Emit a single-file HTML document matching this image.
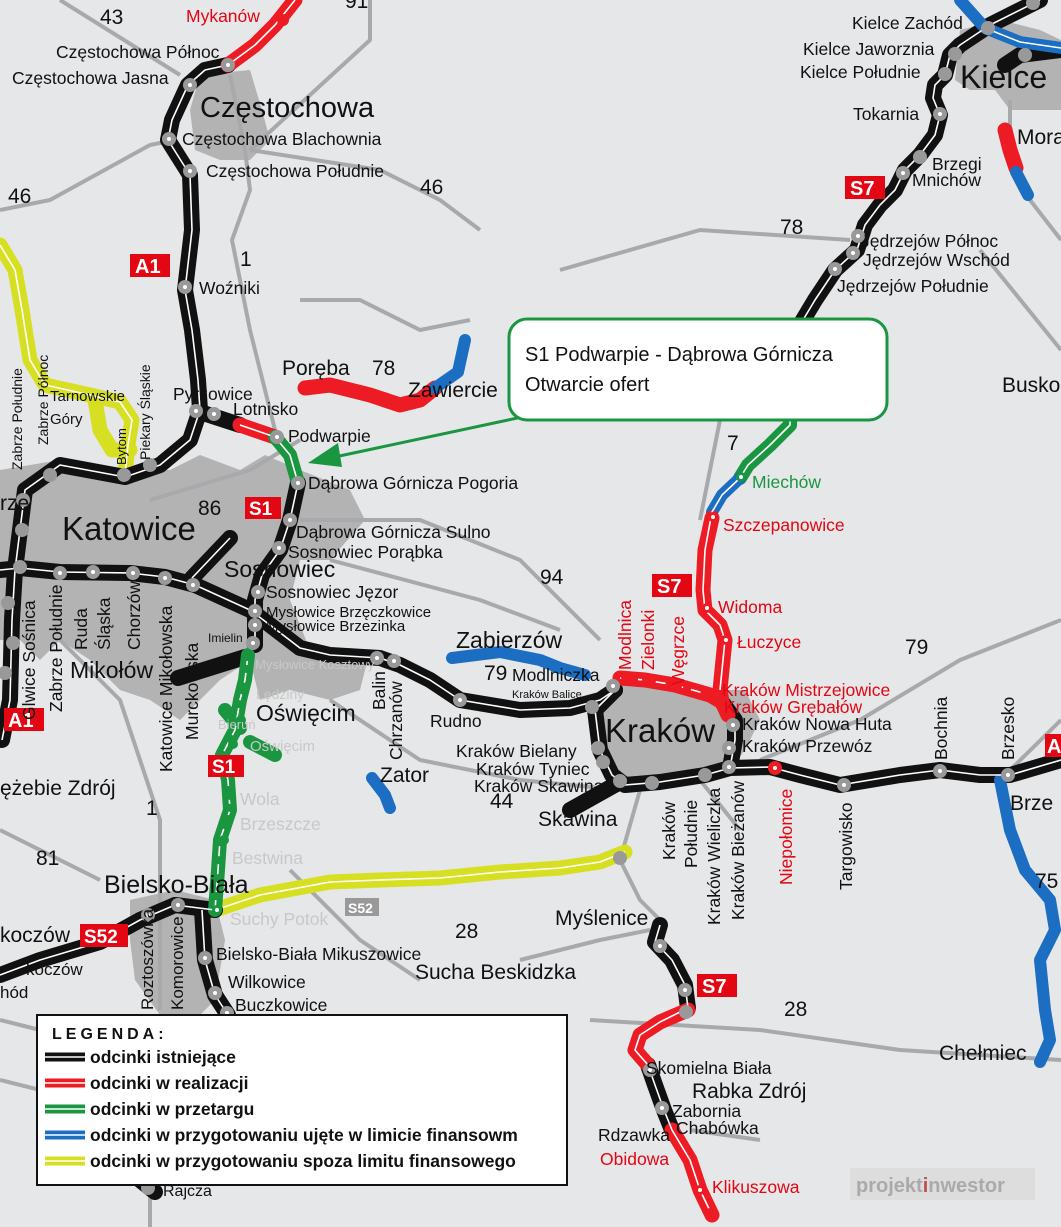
<!DOCTYPE html>
<html><head><meta charset="utf-8"><style>
html,body{margin:0;padding:0;background:#e6e7e8;}
svg{display:block;font-family:"Liberation Sans",sans-serif;}
.m{fill:none;stroke:#a7a9ac;stroke-width:4;stroke-linejoin:round}
.b{fill:none;stroke:#111;stroke-width:16;stroke-linejoin:round;stroke-linecap:round}
.r{fill:none;stroke:#ed1c24;stroke-width:15;stroke-linejoin:round;stroke-linecap:round}
.g{fill:none;stroke:#1a9641;stroke-width:14;stroke-linejoin:round;stroke-linecap:round}
.bl{fill:none;stroke:#1b6ec2;stroke-width:12;stroke-linejoin:round;stroke-linecap:round}
.y{fill:none;stroke:#d7df23;stroke-width:15;stroke-linejoin:round;stroke-linecap:round}
.w{fill:none;stroke:#fff;stroke-width:1.6;stroke-linejoin:round}
.st{fill:#999;stroke:none}
text{font-size:17.5px;fill:#111}
.red{fill:#e30613}
.gr{fill:#1a9641}
.lg{fill:#c8c8c8}
</style></head><body>
<svg width="1061" height="1227" viewBox="0 0 1061 1227" xmlns="http://www.w3.org/2000/svg">
<rect width="1061" height="1227" fill="#e6e7e8"/>
<g fill="#b3b3b3">
<path d="M200,75 L250,70 L262,110 L270,140 L250,160 L220,160 L195,150 L190,110Z"/>
<path d="M0,470 L60,460 L110,470 L170,470 L200,455 L240,470 L265,455 L300,470 L350,490 L365,520 L330,560 L300,560 L290,600 L310,650 L340,660 L370,650 L360,690 L330,700 L290,690 L260,700 L250,660 L220,680 L200,700 L180,720 L150,700 L120,690 L90,660 L60,640 L40,660 L20,640 L0,640Z"/>
<path d="M600,690 L620,680 L700,690 L745,690 L760,720 L745,750 L730,770 L700,780 L650,790 L620,780 L600,750Z"/>
<path d="M130,900 L175,890 L215,900 L225,940 L215,1000 L200,1015 L160,1015 L135,980 L130,940Z"/>
<path d="M960,30 L1000,20 L1040,30 L1061,40 L1061,110 L1010,110 L995,90 L970,90 L955,80Z"/>
</g>
<g>
<path class="m" d="M60,0 L180,75 M230,75 L245,150 L250,190 L232,240 L250,330 L275,430 M250,150 L370,40 L370,0 M250,150 L380,170 L440,200 L480,230 M0,210 L50,200 L150,145 L175,140 M300,300 L360,300 L420,330 L470,320 M150,500 L250,470 L300,440 M300,520 L420,520 L520,560 L600,640 M330,560 L480,600 L560,630 M330,700 L420,760 L520,780 L620,790 M60,640 L120,700 L160,820 L160,1010 M0,830 L60,860 L100,880 M0,1020 L40,1030 L100,1050 M290,870 L360,940 L420,980 M620,860 L640,900 L660,920 M640,790 L620,860 M700,780 L740,830 M760,760 L860,720 L960,660 L1061,620 M720,420 L700,520 M560,270 L700,230 L850,240 M980,250 L1061,350 M1010,100 L1010,130 M1030,200 L1061,240 M1000,780 L1061,720 M590,1020 L760,1030 L900,1050 L1061,1060 M520,960 L600,940 L650,930 M690,1130 L760,1140 M150,1190 L150,1227 M0,1080 L80,1100"/>
</g>
<path class="y" d="M0,245 L15,270 L22,310 L30,360 L45,385 L90,395 L120,402 L132,420 L128,445 L125,475"/>
<path class="y" d="M95,400 L100,430 L112,450 L130,450"/>
<path class="w" d="M0,245 L15,270 L22,310 L30,360 L45,385 L90,395 L120,402 L132,420 L128,445 L125,475"/>
<path class="y" d="M215,910 L260,895 L330,882 L380,880 L440,878 L500,872 L560,868 L600,862 L625,852"/>
<path class="w" d="M215,910 L260,895 L330,882 L380,880 L440,878 L500,872 L560,868 L600,862 L625,852"/>
<g>
<path class="b" d="M228,65 L205,70 L188,85 L172,120 L168,140 L190,175 L192,230 L185,290 L192,330 L198,380 L200,410 L190,440 L160,465 L125,477 L60,465 L25,490 L15,570 L12,620 L10,700 L2,740"/>
<path class="b" d="M200,412 L240,425"/>
<path class="b" d="M0,570 L20,568 L60,572 L130,573 L165,577 L195,585 L250,610 L270,625 L300,648 L330,655 L380,658 L400,665 L430,680 L460,700 L520,710 L570,708 L600,700 L615,690"/>
<path class="b" d="M192,578 L230,538"/>
<path class="b" d="M298,483 L290,520 L280,550 L262,575 L255,600 L255,620 L255,645"/>
<path class="b" d="M178,678 L245,657"/>
<path class="b" d="M615,690 L595,710 L600,750 L612,775 L625,785 L660,782 L705,775 L730,768 L735,740 L735,720 L722,702"/>
<path class="b" d="M620,782 L570,810"/>
<path class="b" d="M730,768 L770,767 L800,775 L840,785 L900,775 L940,770 L980,775 L1010,775 L1061,760"/>
<path class="b" d="M1040,0 L990,25 L960,45 L950,55 L945,75 L935,85 L933,98 L940,115 L935,135 L920,155 L905,170 L895,190 L880,205 L865,225 L857,250 L835,270 L815,300 L797,330 L792,352"/>
<path class="b" d="M1061,50 L1020,55 L1005,65"/>
<path class="b" d="M0,975 L40,960 L100,942 L140,920 L175,905 L215,910"/>
<path class="b" d="M202,910 L205,960 L215,995 L228,1015"/>
<path class="b" d="M660,925 L655,942 L672,960 L685,985 L688,1008"/>
<path class="b" d="M648,1065 L655,1085 L664,1110 L672,1130"/>
<path class="b" d="M140,1180 L155,1192"/>
</g>
<path class="r" d="M228,65 L255,45 L275,25 L295,0"/>
<path class="r" d="M305,388 L330,385 L370,395 L400,405 L420,400 L435,388"/>
<path class="bl" d="M435,388 L458,372 L465,340"/>
<path class="r" d="M240,425 L275,437"/>
<path class="g" d="M275,437 L290,455 L298,483"/>
<path class="g" d="M248,655 L245,680 L240,700 L235,730 L222,755 L228,780 L230,810 L220,840 L218,870 L215,910"/>
<path class="g" d="M225,710 L240,728 M250,742 L275,755"/>
<path class="g" d="M792,352 L790,425 L770,445 L748,465 L740,478"/>
<path class="bl" d="M740,478 L722,495 L712,512"/>
<path class="r" d="M712,518 L705,550 L703,590 L705,610 L720,625 L725,640 L720,690 L722,702"/>
<path class="r" d="M620,678 L645,680 L675,685 L710,695 L722,702 L728,715"/>
<path class="r" d="M688,1010 L660,1022 L640,1035 L635,1050 L648,1065"/>
<path class="r" d="M672,1130 L690,1160 L700,1190 L712,1215"/>
<path class="r" d="M1005,130 L1010,150 L1016,168"/>
<path class="bl" d="M1016,172 L1028,195"/>
<path class="bl" d="M960,0 L985,28 L1020,42 L1061,48"/>
<path class="bl" d="M452,658 L500,652 L540,660 L560,668 L585,675"/>
<path class="bl" d="M372,778 L385,795 L390,808"/>
<path class="bl" d="M1000,780 L1010,830 L1025,870 L1050,900 L1055,930 L1040,960 L1045,1010 L1050,1040 L1040,1062"/>
<g class="w">
<path d="M228,65 L205,70 L188,85 L172,120 L168,140 L190,175 L192,230 L185,290 L192,330 L198,380 L200,410 L190,440 L160,465 L125,477 L60,465 L25,490 L15,570 L12,620 L10,700 L2,740"/>
<path d="M0,570 L20,568 L60,572 L130,573 L165,577 L195,585 L250,610 L270,625 L300,648 L330,655 L380,658 L400,665 L430,680 L460,700 L520,710 L570,708 L600,700 L615,690"/>
<path d="M192,578 L230,538 M298,483 L290,520 L280,550 L262,575 L255,600 L255,645"/>
<path d="M615,690 L595,710 L600,750 L612,775 L625,785 L660,782 L705,775 L730,768 L735,740 L735,720"/>
<path d="M730,768 L770,767 L800,775 L840,785 L900,775 L940,770 L980,775 L1010,775 L1061,760"/>
<path d="M1040,0 L990,25 L960,45 L950,55 L945,75 L935,85 L933,98 L940,115 L935,135 L920,155 L905,170 L895,190 L880,205 L865,225 L857,250 L835,270 L815,300 L797,330 L792,352 L790,425 L770,445 L748,465 L740,478 L722,495 L712,512 L705,550 L703,590 L705,610 L720,625 L725,640 L720,690"/>
<path d="M228,65 L255,45 L275,25 L295,0 M240,425 L275,437 L290,455 L298,483"/>
<path d="M248,655 L245,680 L240,700 L235,730 L222,755 L228,780 L230,810 L220,840 L218,870 L215,910" stroke-dasharray="10 8"/>
<path d="M620,678 L645,680 L675,685 L710,695" stroke-dasharray="10 8"/>
<path d="M0,975 L40,960 L100,942 L140,920 L175,905 L215,910 M202,910 L205,960 L215,995 L228,1015"/>
<path d="M660,925 L655,942 L672,960 L685,985 L688,1008 L660,1022 L640,1035 L635,1050 L648,1065 L655,1085 L664,1110 L672,1130 L690,1160 L700,1190 L712,1215"/>
<path d="M985,28 L1020,42 L1061,48"/>
</g>
<g fill="#999">
<circle cx="228" cy="65" r="7"/><circle cx="190" cy="85" r="7"/><circle cx="169" cy="139" r="7"/><circle cx="190" cy="171" r="7"/><circle cx="185" cy="287" r="7"/><circle cx="196" cy="411" r="7"/><circle cx="214" cy="414" r="7"/><circle cx="277" cy="437" r="7"/><circle cx="298" cy="483" r="7"/><circle cx="290" cy="520" r="7"/><circle cx="279" cy="548" r="7"/><circle cx="258" cy="592" r="7"/><circle cx="255" cy="611" r="7"/><circle cx="255" cy="625" r="7"/><circle cx="253" cy="643" r="7"/>
<circle cx="50" cy="475" r="7"/><circle cx="23" cy="500" r="7"/><circle cx="22" cy="530" r="7"/><circle cx="20" cy="567" r="7"/><circle cx="60" cy="573" r="7"/><circle cx="93" cy="572" r="7"/><circle cx="133" cy="573" r="7"/><circle cx="165" cy="578" r="7"/><circle cx="193" cy="585" r="7"/><circle cx="8" cy="603" r="7"/><circle cx="13" cy="643" r="7"/><circle cx="5" cy="673" r="7"/><circle cx="150" cy="465" r="7"/><circle cx="124" cy="475" r="7"/>
<circle cx="377" cy="658" r="7"/><circle cx="394" cy="661" r="7"/><circle cx="460" cy="700" r="7"/><circle cx="613" cy="686" r="7"/><circle cx="592" cy="707" r="7"/><circle cx="598" cy="748" r="7"/><circle cx="603" cy="762" r="7"/><circle cx="620" cy="781" r="7"/><circle cx="652" cy="783" r="7"/><circle cx="705" cy="775" r="7"/><circle cx="729" cy="767" r="7"/><circle cx="729" cy="748" r="7"/><circle cx="733" cy="725" r="7"/><circle cx="844" cy="785" r="7"/><circle cx="940" cy="771" r="7"/><circle cx="1008" cy="775" r="7"/>
<circle cx="1033" cy="3" r="7"/><circle cx="988" cy="28" r="7"/><circle cx="955" cy="54" r="7"/><circle cx="945" cy="74" r="7"/><circle cx="940" cy="114" r="7"/><circle cx="920" cy="157" r="7"/><circle cx="903" cy="173" r="7"/><circle cx="858" cy="236" r="7"/><circle cx="853" cy="253" r="7"/><circle cx="835" cy="269" r="7"/><circle cx="1025" cy="55" r="7"/>
<circle cx="178" cy="905" r="7"/><circle cx="148" cy="915" r="7"/><circle cx="205" cy="958" r="7"/><circle cx="215" cy="993" r="7"/><circle cx="227" cy="1013" r="7"/><circle cx="660" cy="946" r="7"/><circle cx="685" cy="990" r="7"/><circle cx="686" cy="1012" r="7"/><circle cx="650" cy="1070" r="7"/><circle cx="662" cy="1108" r="7"/><circle cx="620" cy="858" r="7"/><circle cx="148" cy="1188" r="7"/>
</g>
<circle cx="775" cy="768" r="7" fill="#ed1c24"/><circle cx="283" cy="20" r="6" fill="#ed1c24"/>
<g fill="#ed1c24"><circle cx="713" cy="517" r="5"/><circle cx="707" cy="608" r="5"/><circle cx="726" cy="640" r="5"/><circle cx="626" cy="677" r="5"/><circle cx="647" cy="680" r="5"/><circle cx="677" cy="686" r="5"/><circle cx="712" cy="696" r="5"/><circle cx="723" cy="706" r="5"/><circle cx="700" cy="1190" r="5"/><circle cx="710" cy="1213" r="5"/></g>
<g fill="#1a9641"><circle cx="741" cy="477" r="5"/><circle cx="247" cy="656" r="5"/><circle cx="244" cy="690" r="5"/><circle cx="241" cy="720" r="5"/><circle cx="233" cy="744" r="5"/><circle cx="230" cy="795" r="5"/><circle cx="228" cy="820" r="5"/><circle cx="224" cy="840" r="5"/><circle cx="217" cy="910" r="5"/></g>
<g fill="#fff">
<circle cx="228" cy="65" r="2"/><circle cx="190" cy="85" r="2"/><circle cx="169" cy="139" r="2"/><circle cx="190" cy="171" r="2"/><circle cx="185" cy="287" r="2"/><circle cx="196" cy="411" r="2"/><circle cx="214" cy="414" r="2"/><circle cx="277" cy="437" r="2"/><circle cx="298" cy="483" r="2"/><circle cx="290" cy="520" r="2"/><circle cx="279" cy="548" r="2"/><circle cx="258" cy="592" r="2"/><circle cx="255" cy="611" r="2"/><circle cx="255" cy="625" r="2"/><circle cx="253" cy="643" r="2"/><circle cx="60" cy="573" r="2"/><circle cx="93" cy="572" r="2"/><circle cx="133" cy="573" r="2"/><circle cx="165" cy="578" r="2"/><circle cx="193" cy="585" r="2"/><circle cx="377" cy="658" r="2"/><circle cx="394" cy="661" r="2"/><circle cx="460" cy="700" r="2"/><circle cx="613" cy="686" r="2"/><circle cx="729" cy="767" r="2"/><circle cx="729" cy="748" r="2"/><circle cx="733" cy="725" r="2"/><circle cx="775" cy="768" r="2"/><circle cx="844" cy="785" r="2"/><circle cx="940" cy="771" r="2"/><circle cx="1008" cy="775" r="2"/><circle cx="940" cy="114" r="2"/><circle cx="903" cy="173" r="2"/><circle cx="858" cy="236" r="2"/><circle cx="853" cy="253" r="2"/><circle cx="835" cy="269" r="2"/><circle cx="713" cy="517" r="2"/><circle cx="707" cy="608" r="2"/><circle cx="726" cy="640" r="2"/><circle cx="741" cy="477" r="2"/><circle cx="217" cy="910" r="2"/><circle cx="660" cy="946" r="2"/><circle cx="685" cy="990" r="2"/><circle cx="650" cy="1070" r="2"/><circle cx="662" cy="1108" r="2"/><circle cx="700" cy="1190" r="2"/><circle cx="205" cy="958" r="2"/><circle cx="215" cy="993" r="2"/><circle cx="227" cy="1013" r="2"/><circle cx="178" cy="905" r="2"/><circle cx="148" cy="915" r="2"/>
</g>
<g>
<rect x="130" y="254" width="40" height="23" fill="#e30613"/><text x="135" y="273" style="fill:#fff;font-size:20px;font-weight:bold">A1</text>
<rect x="4" y="708" width="40" height="23" fill="#e30613"/><text x="8" y="727" style="fill:#fff;font-size:20px;font-weight:bold">A1</text>
<rect x="245" y="497" width="36" height="22" fill="#e30613"/><text x="249" y="515" style="fill:#fff;font-size:19px;font-weight:bold">S1</text>
<rect x="208" y="755" width="36" height="22" fill="#e30613"/><text x="212" y="773" style="fill:#fff;font-size:19px;font-weight:bold">S1</text>
<rect x="845" y="176" width="40" height="23" fill="#e30613"/><text x="850" y="195" style="fill:#fff;font-size:20px;font-weight:bold">S7</text>
<rect x="652" y="574" width="40" height="23" fill="#e30613"/><text x="657" y="593" style="fill:#fff;font-size:20px;font-weight:bold">S7</text>
<rect x="697" y="974" width="40" height="23" fill="#e30613"/><text x="702" y="993" style="fill:#fff;font-size:20px;font-weight:bold">S7</text>
<rect x="1045" y="734" width="20" height="23" fill="#e30613"/><text x="1047" y="753" style="fill:#fff;font-size:20px;font-weight:bold">A</text>
<rect x="80" y="924" width="48" height="23" fill="#e30613"/><text x="84" y="943" style="fill:#fff;font-size:19px;font-weight:bold">S52</text>
<rect x="345" y="898" width="34" height="18" fill="#999"/><text x="348" y="913" style="fill:#fff;font-size:14px;font-weight:bold">S52</text>
</g>
<g>
<text x="100" y="24" style="font-size:21px">43</text><text x="345" y="8" style="font-size:21px">91</text>
<text x="186" y="22" class="red">Mykanów</text>
<text x="56" y="58">Częstochowa Północ</text><text x="12" y="84">Częstochowa Jasna</text>
<text x="200" y="117" style="font-size:29px">Częstochowa</text>
<text x="182" y="145">Częstochowa Blachownia</text><text x="206" y="177">Częstochowa Południe</text>
<text x="420" y="194" style="font-size:21px">46</text><text x="8" y="203" style="font-size:21px">46</text>
<text x="240" y="266" style="font-size:21px">1</text><text x="199" y="294">Woźniki</text>
<text x="282" y="375" style="font-size:21px">Poręba</text><text x="372" y="375" style="font-size:21px">78</text>
<text x="408" y="397" style="font-size:21px">Zawiercie</text>
<text x="173" y="400">Pyrzowice</text><text x="233" y="415">Lotnisko</text><text x="288" y="442">Podwarpie</text>
<text x="308" y="489">Dąbrowa Górnicza Pogoria</text><text x="296" y="538">Dąbrowa Górnicza Sulno</text><text x="288" y="558">Sosnowiec Porąbka</text>
<text x="198" y="515" style="font-size:21px">86</text>
<text x="62" y="540" style="font-size:33px">Katowice</text><text x="224" y="577" style="font-size:23px">Sosnowiec</text>
<text x="266" y="598">Sosnowiec Jęzor</text><text x="266" y="617" style="font-size:15px">Mysłowice Brzęczkowice</text><text x="266" y="631" style="font-size:15px">Mysłowice Brzezinka</text>
<text x="208" y="642" style="font-size:12px">Imielin</text>
<text x="255" y="669" class="lg" style="font-size:13px">Mysłowice Kosztowy</text><text x="256" y="699" class="lg" style="font-size:14px">Lędziny</text>
<text x="256" y="721" style="font-size:23px">Oświęcim</text><text x="218" y="729" class="lg" style="font-size:13px">Bieruń</text><text x="250" y="751" class="lg" style="font-size:15px">Oświęcim</text>
<text x="70" y="678" style="font-size:23px">Mikołów</text>
<text x="0" y="795" style="font-size:21px">ężebie Zdrój</text><text x="146" y="815" style="font-size:21px">1</text><text x="36" y="865" style="font-size:21px">81</text>
<text x="240" y="805" class="lg">Wola</text><text x="240" y="830" class="lg">Brzeszcze</text><text x="232" y="864" class="lg">Bestwina</text>
<text x="104" y="893" style="font-size:25px">Bielsko-Biała</text><text x="230" y="925" class="lg">Suchy Potok</text>
<text x="0" y="942" style="font-size:21px">koczów</text><text x="26" y="975" style="font-size:17px">koczów</text><text x="0" y="998" style="font-size:17px">hód</text>
<text x="216" y="960">Bielsko-Biała Mikuszowice</text><text x="228" y="988">Wilkowice</text><text x="235" y="1011">Buczkowice</text>
<text x="456" y="648" style="font-size:23px">Zabierzów</text><text x="484" y="680" style="font-size:21px">79</text><text x="512" y="681">Modlniczka</text><text x="512" y="698" style="font-size:11px">Kraków Balice</text>
<text x="430" y="727">Rudno</text><text x="540" y="584" style="font-size:21px">94</text>
<text x="456" y="757">Kraków Bielany</text><text x="476" y="775">Kraków Tyniec</text><text x="474" y="792">Kraków Skawina</text>
<text x="490" y="808" style="font-size:21px">44</text><text x="538" y="826" style="font-size:21px">Skawina</text>
<text x="380" y="782" style="font-size:21px">Zator</text>
<text x="605" y="742" style="font-size:33px">Kraków</text>
<text x="722" y="696" class="red">Kraków Mistrzejowice</text><text x="724" y="713" class="red">Kraków Grębałów</text>
<text x="742" y="730">Kraków Nowa Huta</text><text x="742" y="752">Kraków Przewóz</text>
<text x="718" y="613" class="red">Widoma</text><text x="737" y="648" class="red">Łuczyce</text>
<text x="723" y="531" class="red">Szczepanowice</text><text x="752" y="488" class="gr">Miechów</text>
<text x="727" y="450" style="font-size:21px">7</text><text x="905" y="654" style="font-size:21px">79</text>
<text x="780" y="234" style="font-size:21px">78</text>
<text x="852" y="29">Kielce Zachód</text>
<text x="803" y="55">Kielce Jaworznia</text><text x="800" y="78">Kielce Południe</text>
<text x="853" y="120">Tokarnia</text><text x="932" y="170">Brzegi</text><text x="912" y="186">Mnichów</text>
<text x="861" y="247">Jędrzejów Północ</text><text x="863" y="266">Jędrzejów Wschód</text><text x="837" y="292">Jędrzejów Południe</text>
<text x="960" y="88" style="font-size:32px">Kielce</text><text x="1017" y="144" style="font-size:21px">Mora</text>
<text x="1002" y="392" style="font-size:21px">Busko</text>
<text x="1010" y="810" style="font-size:21px">Brze</text><text x="1035" y="888" style="font-size:21px">75</text>
<text x="939" y="1060" style="font-size:21px">Chełmiec</text>
<text x="784" y="1016" style="font-size:21px">28</text><text x="455" y="938" style="font-size:21px">28</text>
<text x="415" y="979" style="font-size:21px">Sucha Beskidzka</text><text x="555" y="925" style="font-size:21px">Myślenice</text>
<text x="646" y="1074">Skomielna Biała</text><text x="692" y="1098" style="font-size:21px">Rabka Zdrój</text>
<text x="672" y="1117">Zabornia</text><text x="676" y="1134">Chabówka</text>
<text x="598" y="1141">Rdzawka</text><text x="600" y="1165" class="red">Obidowa</text><text x="712" y="1193" class="red">Klikuszowa</text>
</g>
<g>
<text transform="translate(631,670) rotate(-90)" class="red">Modlnica</text>
<text transform="translate(654,670) rotate(-90)" class="red">Zielonki</text>
<text transform="translate(684,685) rotate(-90)" class="red">Węgrzce</text>
<text transform="translate(792,885) rotate(-90)" class="red">Niepołomice</text>
<text transform="translate(675,860) rotate(-90)">Kraków</text>
<text transform="translate(697,868) rotate(-90)">Południe</text>
<text transform="translate(720,925) rotate(-90)">Kraków Wieliczka</text>
<text transform="translate(744,920) rotate(-90)">Kraków Bieżanów</text>
<text transform="translate(852,890) rotate(-90)">Targowisko</text>
<text transform="translate(947,760) rotate(-90)">Bochnia</text>
<text transform="translate(1014,760) rotate(-90)">Brzesko</text>
<text transform="translate(385,710) rotate(-90)">Balin</text>
<text transform="translate(402,760) rotate(-90)">Chrzanów</text>
<text transform="translate(172,772) rotate(-90)">Katowice Mikołowska</text>
<text transform="translate(198,740) rotate(-90)">Murckowska</text>
<text transform="translate(35,720) rotate(-90)">Glwice Sośnica</text>
<text transform="translate(62,712) rotate(-90)">Zabrze Południe</text>
<text transform="translate(87,650) rotate(-90)">Ruda</text>
<text transform="translate(110,650) rotate(-90)">Śląska</text>
<text transform="translate(140,650) rotate(-90)">Chorzów</text>
<text transform="translate(22,470) rotate(-90)" style="font-size:14px">Zabrze Południe</text>
<text transform="translate(48,445) rotate(-90)" style="font-size:14px">Zabrze Północ</text>
<text transform="translate(150,460) rotate(-90)" style="font-size:14px">Piekary Śląskie</text>
<text transform="translate(126,465) rotate(-90)" style="font-size:13px">Bytom</text>
<text transform="translate(153,1010) rotate(-90)" style="font-size:17px">Roztoszówka</text>
<text transform="translate(183,1010) rotate(-90)" style="font-size:17px">Komorowice</text>
</g>
<text x="50" y="401" style="font-size:15px">Tarnowskie</text><text x="50" y="424" style="font-size:15px">Góry</text>
<text x="0" y="510" style="font-size:21px">rze</text>
<line x1="555" y1="410" x2="330" y2="458" stroke="#1a9641" stroke-width="3"/>
<polygon points="308,463 338,443 342,467" fill="#1a9641"/>
<rect x="509" y="319" width="378" height="101" rx="18" fill="#fff" stroke="#1a9641" stroke-width="3"/>
<text x="525" y="361" style="font-size:20px">S1 Podwarpie - Dąbrowa Górnicza</text>
<text x="525" y="391" style="font-size:20px">Otwarcie ofert</text>
<rect x="37" y="1015" width="530" height="170" fill="#fff" stroke="#111" stroke-width="2"/>
<text x="52" y="1039" style="font-size:16px;font-weight:bold;letter-spacing:4px">LEGENDA:</text>
<g stroke-width="9">
<line x1="45" y1="1057" x2="85" y2="1057" stroke="#111"/>
<line x1="45" y1="1083" x2="85" y2="1083" stroke="#ed1c24"/>
<line x1="45" y1="1109" x2="85" y2="1109" stroke="#1a9641"/>
<line x1="45" y1="1135" x2="85" y2="1135" stroke="#1b6ec2"/>
<line x1="45" y1="1161" x2="85" y2="1161" stroke="#d7df23"/>
</g>
<g stroke="#fff" stroke-width="1.5">
<line x1="45" y1="1057" x2="85" y2="1057"/><line x1="45" y1="1083" x2="85" y2="1083"/><line x1="45" y1="1109" x2="85" y2="1109"/><line x1="45" y1="1135" x2="85" y2="1135"/><line x1="45" y1="1161" x2="85" y2="1161"/>
</g>
<text x="90" y="1063" style="font-weight:bold">odcinki istniejące</text>
<text x="90" y="1089" style="font-weight:bold">odcinki w realizacji</text>
<text x="90" y="1115" style="font-weight:bold">odcinki w przetargu</text>
<text x="90" y="1141" style="font-weight:bold">odcinki w przygotowaniu ujęte w limicie finansowm</text>
<text x="90" y="1167" style="font-weight:bold">odcinki w przygotowaniu spoza limitu finansowego</text>
<text x="163" y="1196" style="font-size:16px">Rajcza</text>
<rect x="850" y="1168" width="185" height="32" fill="#d8d8d8" opacity="0.7"/>
<text x="856" y="1192" style="font-size:20px;font-weight:bold;fill:#aaa">projekt<tspan style="fill:#c0504d">i</tspan>nwestor</text>
</svg>
</body></html>
